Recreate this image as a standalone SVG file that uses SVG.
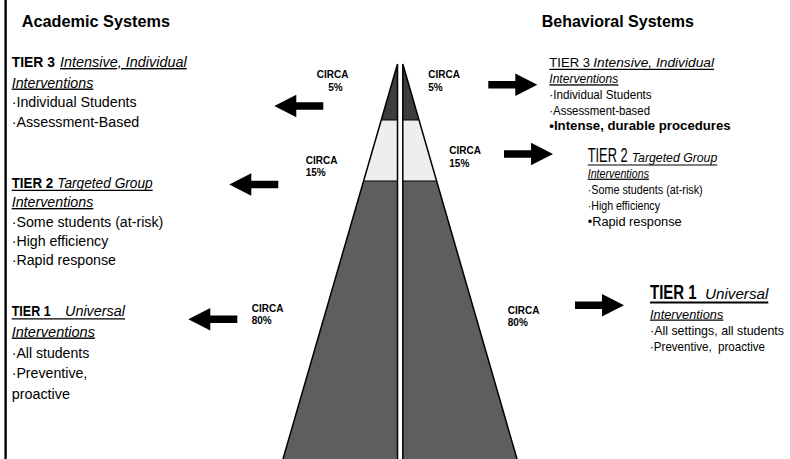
<svg xmlns="http://www.w3.org/2000/svg" xmlns:xlink="http://www.w3.org/1999/xlink" width="790" height="459" viewBox="0 0 790 459">
<style>
  text { fill: #000; }
  .n { font-family: 'Liberation Sans Narrow','Arial Narrow','Liberation Sans',Arial,sans-serif; }
  .a { font-family: 'Liberation Sans',Arial,sans-serif; }
  .b { font-weight: bold; }
  .i { font-style: italic; }
  .u { text-decoration: underline; }
  .hdr { font-family: 'Liberation Sans',Arial,sans-serif; font-size: 16px; font-weight: bold; }
  .lt { font-size: 14px; }
  .rt { font-size: 13px; }
  .r2 { font-size: 12px; }
  .r1 { font-size: 12.4px; }
  .circa { font-family: 'Liberation Sans',Arial,sans-serif; font-size: 10px; font-weight: bold; }
  .edge { fill: none; stroke: #000; stroke-width: 1.5; stroke-linejoin: miter; }
  .band { stroke: #000; stroke-width: 1; }
  .ul { stroke: #000; }
</style>
<defs>
  <path id="arrow" d="M0,-3.8 H27 V-11.3 L49,0 L27,11.3 V3.8 H0 Z" fill="#000"/>
</defs>
<rect x="0" y="0" width="790" height="459" fill="#fff"/>

<!-- left border -->
<line x1="5.6" y1="0" x2="5.6" y2="459" stroke="#000" stroke-width="2.4"/>

<!-- pyramid -->
<g id="pyramid">
  <polygon points="397.5,64 397.5,120 381.3,120" fill="#3d3d3d"/>
  <polygon points="381.3,120 397.5,120 397.5,181 363.6,181" fill="#eeeeee"/>
  <polygon points="363.6,181 397.5,181 397.5,459 283,459" fill="#5e5e5e"/>
  <polygon points="402.8,64 402.8,120 419,120" fill="#3d3d3d"/>
  <polygon points="419,120 402.8,120 402.8,181 436.6,181" fill="#eeeeee"/>
  <polygon points="436.6,181 402.8,181 402.8,459 517,459" fill="#5e5e5e"/>
  <line class="band" x1="381.3" y1="120" x2="397.5" y2="120"/>
  <line class="band" x1="363.6" y1="181" x2="397.5" y2="181"/>
  <line class="band" x1="402.8" y1="120" x2="419" y2="120"/>
  <line class="band" x1="402.8" y1="181" x2="436.6" y2="181"/>
  <polyline class="edge" points="283,459 397.5,64 397.5,459"/>
  <polyline class="edge" points="517,459 402.8,64 402.8,459"/>
</g>

<!-- headers -->
<g id="header-academic">
  <text class="hdr" x="21.7" y="26.7" textLength="148.3" lengthAdjust="spacingAndGlyphs">Academic Systems</text>
</g>
<g id="header-behavioral">
  <text class="hdr" x="541.7" y="26.7" textLength="152.3" lengthAdjust="spacingAndGlyphs">Behavioral Systems</text>
</g>

<!-- academic tiers -->
<g id="academic-tier3" class="n lt">
  <text class="b" x="11.7" y="67" textLength="43.3" lengthAdjust="spacingAndGlyphs">TIER 3</text>
  <text class="i u" x="60" y="67" textLength="126.7" lengthAdjust="spacingAndGlyphs">Intensive, Individual</text>
  <text class="i u" x="11.7" y="87.5" textLength="81.6" lengthAdjust="spacingAndGlyphs">Interventions</text>
  <text x="11.7" y="107.3" textLength="125" lengthAdjust="spacingAndGlyphs">·Individual Students</text>
  <text x="11.7" y="127.3" textLength="127.6" lengthAdjust="spacingAndGlyphs">·Assessment-Based</text>
</g>
<g id="academic-tier2" class="n lt">
  <text class="b" x="11.7" y="187.5" textLength="41.6" lengthAdjust="spacingAndGlyphs">TIER 2</text>
  <text class="i" x="57.3" y="187.5" textLength="95.4" lengthAdjust="spacingAndGlyphs">Targeted Group</text>
  <line class="ul" x1="11.7" y1="190.3" x2="152.7" y2="190.3" stroke-width="1.2"/>
  <text class="i u" x="11.7" y="207" textLength="81.6" lengthAdjust="spacingAndGlyphs">Interventions</text>
  <text x="11.7" y="227" textLength="151.6" lengthAdjust="spacingAndGlyphs">·Some students (at-risk)</text>
  <text x="11.7" y="246" textLength="96.6" lengthAdjust="spacingAndGlyphs">·High efficiency</text>
  <text x="11.7" y="264.5" textLength="104.3" lengthAdjust="spacingAndGlyphs">·Rapid response</text>
</g>
<g id="academic-tier1" class="n lt">
  <text class="b" x="11.7" y="316" textLength="39" lengthAdjust="spacingAndGlyphs">TIER 1</text>
  <text class="i" x="65" y="316" textLength="60" lengthAdjust="spacingAndGlyphs">Universal</text>
  <line class="ul" x1="11.7" y1="318.8" x2="125" y2="318.8" stroke-width="1.2"/>
  <text class="i u" x="11.7" y="336.5" textLength="83.3" lengthAdjust="spacingAndGlyphs">Interventions</text>
  <text x="11.7" y="357.5" textLength="77.6" lengthAdjust="spacingAndGlyphs">·All students</text>
  <text x="11.7" y="377.5" textLength="75.6" lengthAdjust="spacingAndGlyphs">·Preventive,</text>
  <text x="11.7" y="398.5" textLength="58.3" lengthAdjust="spacingAndGlyphs">proactive</text>
</g>

<!-- behavioral tiers -->
<g id="behavioral-tier3" class="n rt">
  <text x="549.3" y="66.7" textLength="40.7" lengthAdjust="spacingAndGlyphs">TIER 3</text>
  <text class="i" x="593.3" y="66.7" textLength="120.7" lengthAdjust="spacingAndGlyphs">Intensive, Individual</text>
  <line class="ul" x1="549.3" y1="69.3" x2="714" y2="69.3" stroke-width="1.2"/>
  <text class="i u" x="549.3" y="83.3" textLength="69" lengthAdjust="spacingAndGlyphs">Interventions</text>
  <text x="549.3" y="99" textLength="102.4" lengthAdjust="spacingAndGlyphs">·Individual Students</text>
  <text x="549.3" y="114.5" textLength="100.7" lengthAdjust="spacingAndGlyphs">·Assessment-based</text>
  <text class="a b" x="549.3" y="130" font-size="12" textLength="181.4" lengthAdjust="spacingAndGlyphs">•Intense, durable procedures</text>
</g>
<g id="behavioral-tier2" class="n r2">
  <text font-size="21" transform="translate(587.7,162.3) scale(0.612,1)">TIER 2</text>
  <text class="i" x="631.7" y="162.3" font-size="12.5" textLength="85.6" lengthAdjust="spacingAndGlyphs">Targeted Group</text>
  <line class="ul" x1="587.7" y1="165" x2="717.3" y2="165" stroke-width="1.1"/>
  <text class="i u" x="587.7" y="177.7" textLength="61.3" lengthAdjust="spacingAndGlyphs">Interventions</text>
  <text x="587.7" y="194" textLength="115" lengthAdjust="spacingAndGlyphs">·Some students (at-risk)</text>
  <text x="587.7" y="210" textLength="72.3" lengthAdjust="spacingAndGlyphs">·High efficiency</text>
  <text class="a" x="587.7" y="226" font-size="13" textLength="94" lengthAdjust="spacingAndGlyphs">•Rapid response</text>
</g>
<g id="behavioral-tier1" class="n r1">
  <text class="b" font-size="21" transform="translate(650,299) scale(0.714,1)">TIER 1</text>
  <text class="i" x="705" y="299" font-size="14" textLength="63.3" lengthAdjust="spacingAndGlyphs">Universal</text>
  <line class="ul" x1="650" y1="302.6" x2="768.3" y2="302.6" stroke-width="2"/>
  <text class="i u" x="650" y="318.5" textLength="73.3" lengthAdjust="spacingAndGlyphs">Interventions</text>
  <text x="650" y="335" textLength="134" lengthAdjust="spacingAndGlyphs">·All settings, all students</text>
  <text x="650" y="350.5" textLength="115" lengthAdjust="spacingAndGlyphs" xml:space="preserve">·Preventive,  proactive</text>
</g>

<!-- percentage labels -->
<g id="labels" class="circa">
  <text x="316.7" y="78.3">CIRCA</text>
  <text x="328.3" y="90.7">5%</text>
  <text x="428.3" y="78.3">CIRCA</text>
  <text x="428.3" y="90.7">5%</text>
  <text x="305.7" y="163.5">CIRCA</text>
  <text x="305.7" y="176.3">15%</text>
  <text x="449.3" y="153.5">CIRCA</text>
  <text x="449.3" y="166.7">15%</text>
  <text x="251.7" y="311.7">CIRCA</text>
  <text x="251.7" y="323.5">80%</text>
  <text x="507.8" y="314">CIRCA</text>
  <text x="507.8" y="326">80%</text>
</g>

<!-- arrows -->
<g id="connectors">
  <use xlink:href="#arrow" href="#arrow" transform="translate(323.3,106) scale(-1,1)"/>
  <use xlink:href="#arrow" href="#arrow" transform="translate(488.3,84.7)"/>
  <use xlink:href="#arrow" href="#arrow" transform="translate(504,154)"/>
  <use xlink:href="#arrow" href="#arrow" transform="translate(278.3,184.5) scale(-1,1)"/>
  <use xlink:href="#arrow" href="#arrow" transform="translate(237.3,319.3) scale(-1,1)"/>
  <use xlink:href="#arrow" href="#arrow" transform="translate(575,305.3)"/>
</g>
</svg>
